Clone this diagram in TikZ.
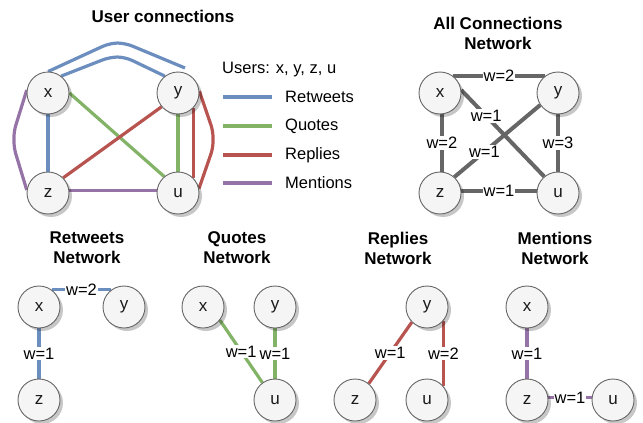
\documentclass[tikz,border=0pt]{standalone}
\usepackage{fontspec}
\setmainfont{Liberation Sans}
\usetikzlibrary{shadows,backgrounds,calc}
\definecolor{cblue}{HTML}{6C8EBF}
\definecolor{cgreen}{HTML}{82B366}
\definecolor{cred}{HTML}{B85450}
\definecolor{cpurple}{HTML}{9673A6}
\definecolor{cgray}{HTML}{666666}
\definecolor{cfill}{HTML}{F5F5F5}
\definecolor{ctext}{HTML}{1A1A1A}
\begin{document}
\begin{tikzpicture}[x=1pt,y=-1pt,
  user/.style={circle,draw=cgray,fill=cfill,line width=0.9pt,minimum size=42pt,inner sep=0pt,
    text=ctext,font=\fontsize{17}{20}\selectfont,
    drop shadow={shadow xshift=3pt,shadow yshift=-3pt,opacity=0.22,fill=black}},
  ttl/.style={font=\fontsize{17}{20}\selectfont\bfseries,align=center,inner sep=0pt,text=black},
  txt/.style={font=\fontsize{16.5}{20}\selectfont,inner sep=0pt,text=black},
  lbl/.style={fill=white,inner sep=1pt,text=black,font=\fontsize{16.5}{19}\selectfont},
  ln/.style={line width=3.2pt},
  gl/.style={line width=4pt,cgray},
]
\useasboundingbox (0,0) rectangle (643,423);

% ---------- User connections ----------
\node[ttl] (t1) at (163,16) {User connections};
\node[user] (x1) at (48,93) {x};
\node[user] (y1) at (178,93) {y};
\node[user] (z1) at (48,193) {z};
\node[user] (u1) at (178,193) {u};
\coordinate (bo) at (185,68);
\begin{scope}[on background layer]
  \draw[cblue,ln,rounded corners=8pt] (x1.north) -- (110,43) -- (125,43) -- (bo);
  \draw[cblue,ln,rounded corners=8pt] (x1.52) -- (110,57) -- (125,57) -- (y1.128);
  \draw[cblue,ln] (x1.south) -- (z1.north);
  \draw[cgreen,ln] (x1.east) -- (u1.130);
  \draw[cgreen,ln] (y1.south) -- (u1.north);
  \draw[cred,ln] (y1.220) -- (z1.45);
  \draw[cred,ln] (y1.south east) -- (u1.north east);
  \draw[cred,ln,rounded corners=6pt] (y1.5) -- (213,131) -- (213,148) -- (u1.12);
  \draw[cpurple,ln,rounded corners=6pt] (x1.172) -- (14,131) -- (14,148) -- (z1.172);
  \draw[cpurple,ln] (z1.6) -- (u1.174);
\end{scope}

% legend
\node[txt,anchor=west] (lg) at (222,70) {Users: x, y, z, u};
\coordinate (la1) at (223,97);  \coordinate (lb1) at (272,97);
\coordinate (la2) at (223,126); \coordinate (lb2) at (272,126);
\coordinate (la3) at (223,155); \coordinate (lb3) at (272,155);
\coordinate (la4) at (223,183); \coordinate (lb4) at (272,183);
\draw[cblue,ln] (la1) -- (lb1);
\draw[cgreen,ln] (la2) -- (lb2);
\draw[cred,ln] (la3) -- (lb3);
\draw[cpurple,ln] (la4) -- (lb4);
\node[txt,anchor=west] (ll1) at (285,97) {Retweets};
\node[txt,anchor=west] (ll2) at (285,126) {Quotes};
\node[txt,anchor=west] (ll3) at (285,155) {Replies};
\node[txt,anchor=west] (ll4) at (285,183) {Mentions};

% ---------- All connections ----------
\node[ttl] (t2) at (498,33) {All Connections\\Network};
\node[user] (x2) at (440,93) {x};
\node[user] (y2) at (558,93) {y};
\node[user] (z2) at (440,193) {z};
\node[user] (u2) at (558,193) {u};
\begin{scope}[on background layer]
  \draw[gl] (x2.54) -- node[lbl] {w=2} (y2.126);
  \draw[gl] (x2.-85) -- node[lbl] {w=2} (z2.85);
  \draw[gl] (y2.south) -- node[lbl] {w=3} (u2.north);
  \draw[gl] (z2.6) -- node[lbl] {w=1} (u2.174);
  \draw[gl] (x2.8) -- node[lbl,pos=0.3] {w=1} (u2.130);
  \draw[gl] (y2.214) -- node[lbl,pos=0.65] {w=1} (z2.48);
\end{scope}

% ---------- Retweets ----------
\node[ttl] (t3) at (87,248) {Retweets\\Network};
\node[user] (x3) at (39,307) {x};
\node[user] (y3) at (124,307) {y};
\node[user] (z3) at (39,400) {z};
\begin{scope}[on background layer]
  \draw[cblue,ln] (x3.54) -- node[lbl] {w=2} (y3.126);
  \draw[cblue,ln] (x3.south) -- node[lbl] {w=1} (z3.north);
\end{scope}

% ---------- Quotes ----------
\node[ttl] (t4) at (237,248) {Quotes\\Network};
\node[user] (x4) at (203,307) {x};
\node[user] (y4) at (275,307) {y};
\node[user] (u4) at (275,400) {u};
\begin{scope}[on background layer]
  \draw[cgreen,ln] (x4.-38) -- node[lbl] {w=1} (u4.126);
  \draw[cgreen,ln] (y4.south) -- node[lbl] {w=1} (u4.north);
\end{scope}

% ---------- Replies ----------
\node[ttl] (t5) at (398,248) {Replies\\Network};
\node[user] (y5) at (427,307) {y};
\node[user] (z5) at (355,400) {z};
\node[user] (u5) at (427,400) {u};
\begin{scope}[on background layer]
  \draw[cred,ln] (y5.225) -- node[lbl] {w=1} (z5.50);
  \draw[cred,ln] (y5.-40) -- node[lbl] {w=2} (u5.40);
\end{scope}

% ---------- Mentions ----------
\node[ttl] (t6) at (555,248) {Mentions\\Network};
\node[user] (x6) at (527,307) {x};
\node[user] (z6) at (527,400) {z};
\node[user] (u6) at (613,400) {u};
\begin{scope}[on background layer]
  \draw[cpurple,ln] (x6.south) -- node[lbl] {w=1} (z6.north);
  \draw[cpurple,ln] (z6.6) -- node[lbl] {w=1} (u6.174);
\end{scope}
\end{tikzpicture}
\end{document}
